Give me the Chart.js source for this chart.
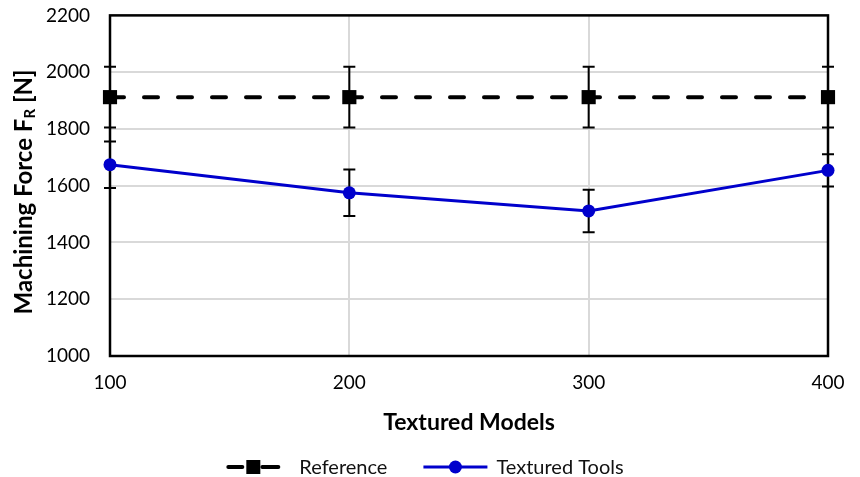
<!DOCTYPE html>
<html><head><meta charset="utf-8">
<script src="https://cdn.jsdelivr.net/npm/chart.js@4.4.0/dist/chart.umd.min.js"></script>
<style>html,body{margin:0;padding:0;background:#fff;}</style>
</head><body>
<canvas id="c" width="860" height="477" style="display:block;width:860px;height:477px"></canvas>
<script>
// ---- data ----
const xValues = [100, 200, 300, 400];
const referenceValues = [1912, 1912, 1912, 1912];
const referenceErrors = [107, 107, 107, 107];
const texturedValues = [1674, 1575, 1511, 1654];
const texturedErrors = [82, 82, 75, 57];
const yTickValues = [1000, 1200, 1400, 1600, 1800, 2000, 2200];
const xTickValues = [100, 200, 300, 400];
const seriesNames = ['Reference', 'Textured Tools'];
const xTitle = 'Textured Models';
const yTitleMain = 'Machining Force F';
const yTitleSub = 'R';
const yTitleEnd = ' [N]';

const FONT = 'Lato';
const BLUE = '#0000cc';

const framePlugin = {
  id: 'frameAndErrors',
  beforeDatasetsDraw(chart) {
    const { ctx, chartArea: a, scales: { x, y } } = chart;
    ctx.save();
    ctx.strokeStyle = '#000';
    ctx.lineWidth = 2.5;
    ctx.strokeRect(a.left, a.top, a.right - a.left, a.bottom - a.top);
    ctx.lineWidth = 2;
    const bars = (vals, errs) => {
      vals.forEach((v, i) => {
        const px = x.getPixelForValue(xValues[i]);
        const t = y.getPixelForValue(v + errs[i]);
        const b = y.getPixelForValue(v - errs[i]);
        ctx.beginPath();
        ctx.moveTo(px, t); ctx.lineTo(px, b);
        ctx.moveTo(px - 6, t); ctx.lineTo(px + 6, t);
        ctx.moveTo(px - 6, b); ctx.lineTo(px + 6, b);
        ctx.stroke();
      });
    };
    bars(referenceValues, referenceErrors);
    bars(texturedValues, texturedErrors);
    ctx.restore();
  },
  afterDraw(chart) {
    const { ctx } = chart;
    ctx.save();
    // y title with subscript
    const big = 'bold 24px ' + FONT, small = 'bold 15px ' + FONT;
    ctx.font = big; const w1 = ctx.measureText(yTitleMain).width; const w3 = ctx.measureText(yTitleEnd).width;
    ctx.font = small; const w2 = ctx.measureText(yTitleSub).width;
    const total = w1 + w2 + w3;
    ctx.translate(24, 192);
    ctx.rotate(-Math.PI / 2);
    ctx.fillStyle = '#000';
    ctx.textBaseline = 'middle';
    ctx.textAlign = 'left';
    let sx = -total / 2;
    ctx.font = big; ctx.fillText(yTitleMain, sx, 0); sx += w1;
    ctx.font = small; ctx.fillText(yTitleSub, sx, 6); sx += w2;
    ctx.font = big; ctx.fillText(yTitleEnd, sx, 0);
    ctx.restore();

    // legend
    ctx.save();
    const lf = '20px ' + FONT;
    ctx.font = lf;
    const t1 = ctx.measureText(seriesNames[0]).width;
    const t2 = ctx.measureText(seriesNames[1]).width;
    const s1 = 54, g1 = 19, gap = 36, s2 = 64, g2 = 9;
    const totalW = s1 + g1 + t1 + gap + s2 + g2 + t2;
    let lx = 425 - totalW / 2;
    const ly = 467;
    // reference symbol
    ctx.strokeStyle = '#000'; ctx.lineWidth = 4; ctx.lineCap = 'round';
    ctx.setLineDash([14, 20]);
    ctx.beginPath(); ctx.moveTo(lx + 2, ly); ctx.lineTo(lx + s1 - 2, ly); ctx.stroke();
    ctx.setLineDash([]);
    ctx.beginPath(); ctx.moveTo(lx + s1 - 8, ly); ctx.lineTo(lx + s1 - 2, ly); ctx.stroke();
    ctx.fillStyle = '#000';
    ctx.fillRect(lx + 27 - 7, ly - 7, 14, 14);
    lx += s1 + g1;
    ctx.fillStyle = '#111'; ctx.textBaseline = 'middle'; ctx.textAlign = 'left';
    ctx.fillText(seriesNames[0], lx, ly + 1);
    lx += t1 + gap;
    // textured symbol
    ctx.strokeStyle = BLUE; ctx.lineWidth = 3; ctx.lineCap = 'butt';
    ctx.beginPath(); ctx.moveTo(lx, ly); ctx.lineTo(lx + s2, ly); ctx.stroke();
    ctx.fillStyle = BLUE;
    ctx.beginPath(); ctx.arc(lx + s2 / 2, ly, 6.5, 0, Math.PI * 2); ctx.fill();
    lx += s2 + g2;
    ctx.fillStyle = '#111';
    ctx.fillText(seriesNames[1], lx, ly + 1);
    ctx.restore();
  }
};

new Chart(document.getElementById('c'), {
  type: 'line',
  data: {
    datasets: [
      {
        label: seriesNames[0],
        data: xValues.map((xv, i) => ({ x: xv, y: referenceValues[i] })),
        borderColor: '#000',
        backgroundColor: '#000',
        borderWidth: 4,
        borderDash: [14, 20],
        borderCapStyle: 'round',
        pointStyle: 'rect',
        pointRadius: 10,
        pointBorderWidth: 0,
        pointBackgroundColor: '#000',
        clip: false,
        order: 2
      },
      {
        label: seriesNames[1],
        data: xValues.map((xv, i) => ({ x: xv, y: texturedValues[i] })),
        borderColor: BLUE,
        backgroundColor: BLUE,
        borderWidth: 3,
        pointStyle: 'circle',
        pointRadius: 6.5,
        pointBorderWidth: 0,
        pointBackgroundColor: BLUE,
        clip: false,
        order: 1
      }
    ]
  },
  options: {
    responsive: false,
    animation: false,
    devicePixelRatio: 1,
    layout: { padding: { left: 0, right: 32, top: 0, bottom: 39 } },
    plugins: { legend: { display: false }, tooltip: { enabled: false } },
    scales: {
      x: {
        type: 'linear',
        min: 100, max: 400,
        afterBuildTicks(s) { s.ticks = xTickValues.map(v => ({ value: v })); },
        afterFit(s) { s.height = 82; },
        grid: { color: '#d9d9d9', lineWidth: 2, drawTicks: false },
        border: { display: false },
        ticks: { padding: 15, color: '#000', font: { family: FONT, size: 19 }, callback: v => String(v) },
        title: { display: true, text: xTitle, color: '#000', font: { family: FONT, size: 23, weight: 'bold' }, padding: { top: 0, bottom: 2 } }
      },
      y: {
        min: 1000, max: 2200,
        afterBuildTicks(s) { s.ticks = yTickValues.map(v => ({ value: v })); },
        afterFit(s) { s.width = 110; },
        grid: { color: '#d9d9d9', lineWidth: 2, drawTicks: true, tickLength: 16, tickColor: 'rgba(0,0,0,0)' },
        border: { display: false },
        ticks: { padding: 4, color: '#000', font: { family: FONT, size: 19 }, callback: v => String(v) }
      }
    }
  },
  plugins: [framePlugin]
});
</script>
</body></html>
